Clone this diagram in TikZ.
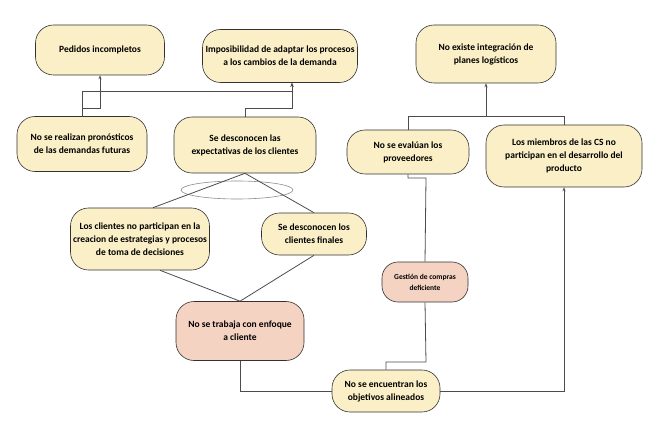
\documentclass[tikz,border=0pt]{standalone}
\usepackage{fontspec}
\setmainfont{Carlito}
\usetikzlibrary{arrows.meta}
\definecolor{ylw}{HTML}{FAEFC6}
\definecolor{slm}{HTML}{F5D3C2}
\begin{document}
\begin{tikzpicture}[x=1pt,y=-1pt,
  box/.style={draw=black!80,line width=0.6pt,fill=ylw,rounded corners=18pt,align=center,inner sep=2pt,
    font=\fontsize{9.5}{13}\selectfont\bfseries},
  pink/.style={fill=slm},
  con/.style={draw=black!70,line width=0.8pt},
  arr/.style={con,-{Stealth[length=4pt,width=3pt]}}]
\useasboundingbox (0,0) rectangle (653,422);
\node[box,minimum width=129pt,minimum height=50pt] (ped) at (100,50) {Pedidos incompletos};
\node[box,minimum width=155pt,minimum height=53pt] (imp) at (280,56) {Imposibilidad de adaptar los procesos\\a los cambios de la demanda};
\node[box,minimum width=140pt,minimum height=58pt] (noe) at (486,54) {No existe integración de\\planes logísticos};
\node[box,minimum width=130pt,minimum height=55pt] (rea) at (82,144) {No se realizan pronósticos\\de las demandas futuras};
\node[box,minimum width=142pt,minimum height=56pt] (exp) at (245,145) {Se desconocen las\\expectativas de los clientes};
\node[box,minimum width=122pt,minimum height=44pt] (eva) at (408,152) {No se evalúan los\\proveedores};
\node[box,minimum width=156pt,minimum height=62pt] (mie) at (564,156) {Los miembros de las CS no\\participan en el desarrollo del\\producto};
\node[box,minimum width=139pt,minimum height=62pt] (par) at (140,239) {Los clientes no participan en la\\creacion de estrategias y procesos\\de toma de decisiones};
\node[box,minimum width=105pt,minimum height=42pt] (fin) at (314,234) {Se desconocen los\\clientes finales};
\node[box,pink,minimum width=86pt,minimum height=40pt,rounded corners=16pt,font=\fontsize{7.5}{11}\selectfont\bfseries] (ges) at (425,282) {Gestión de compras\\deficiente};
\node[box,pink,minimum width=128pt,minimum height=59pt] (tra) at (240,331) {No se trabaja con enfoque\\a cliente};
\node[box,minimum width=108pt,minimum height=42pt] (enc) at (386,391) {No se encuentran los\\objetivos alineados};
\draw[draw=black!45,line width=0.6pt] (237,190) ellipse (56 and 9);
\coordinate (tip) at (exp.south);
\path[con] (tip) -- ([xshift=13pt]par.north) (tip) -- (fin.north);
\path[con] ([xshift=20pt]par.south) -- (tra.north) (fin.south) -- (tra.north);
\path[arr] (rea.north) -- (82,91) -| ([xshift=12pt]imp.south);
\path[arr] (82,117) |- (100,108) -- (ped.south);
\path[arr] (exp.north) |- (292,108) -- ([xshift=12pt]imp.south);
\path[arr] (eva.north) |- (486,116) -- (noe.south);
\path[con] (mie.north) |- (486,116);
\path[con] (eva.south) |- (426,178) -- (ges.north);
\path[con] (ges.south) -- (426,362) -| (enc.north);
\path[con] (tra.south) |- (enc.west);
\path[arr] (enc.east) -| (mie.south);
\end{tikzpicture}
\end{document}
